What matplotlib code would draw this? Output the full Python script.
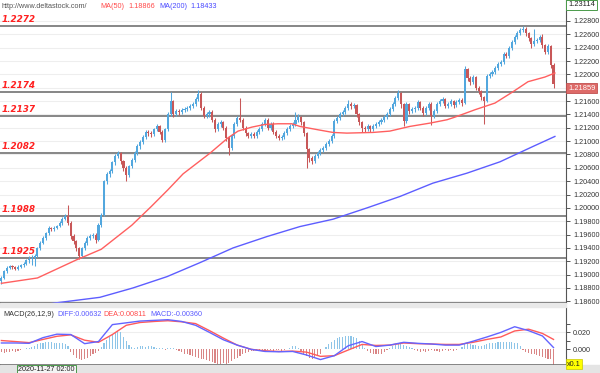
import matplotlib
matplotlib.use('Agg')
import matplotlib.pyplot as plt
import numpy as np
from matplotlib.ticker import FixedLocator, FuncFormatter, FormatStrFormatter
import matplotlib.transforms as mtrans

plt.rcParams['font.family'] = ['Liberation Sans', 'DejaVu Sans']

# ---------------- data ----------------
first_open = 1.1890
closes = [
    1.1895, 1.1905, 1.1910, 1.1913, 1.1911, 1.1909, 1.1912, 1.1914, 1.1916, 1.1922,
    1.1924, 1.1925, 1.1928, 1.1940, 1.1948, 1.1955, 1.1962, 1.1970, 1.1969, 1.1970,
    1.1973, 1.1978, 1.1984, 1.1988, 1.1978, 1.1958, 1.1950, 1.1940, 1.1928, 1.1940,
    1.1948, 1.1955, 1.1958, 1.1960, 1.1952, 1.1975, 1.1990, 1.2040, 1.2050, 1.2055,
    1.2068, 1.2078, 1.2082, 1.2070, 1.2060, 1.2049, 1.2062, 1.2072, 1.2082, 1.2092,
    1.2099, 1.2106, 1.2114, 1.2112, 1.2110, 1.2118, 1.2122, 1.2114, 1.2102, 1.2118,
    1.2140, 1.2160, 1.2140, 1.2145, 1.2143, 1.2146, 1.2148, 1.2150, 1.2152, 1.2156,
    1.2163, 1.2170, 1.2150, 1.2138, 1.2140, 1.2144, 1.2132, 1.2118, 1.2125, 1.2128,
    1.2120, 1.2105, 1.2090, 1.2108, 1.2125, 1.2135, 1.2132, 1.2120, 1.2112, 1.2108,
    1.2110, 1.2108, 1.2113, 1.2118, 1.2126, 1.2132, 1.2120, 1.2126, 1.2114, 1.2108,
    1.2105, 1.2106, 1.2112, 1.2118, 1.2122, 1.2126, 1.2132, 1.2136, 1.2128, 1.2112,
    1.2088, 1.2075, 1.2070, 1.2078, 1.2082, 1.2086, 1.2090, 1.2095, 1.2100, 1.2108,
    1.2130, 1.2134, 1.2140, 1.2144, 1.2150, 1.2155, 1.2152, 1.2154, 1.2140, 1.2128,
    1.2120, 1.2118, 1.2122, 1.2118, 1.2122, 1.2126, 1.2128, 1.2132, 1.2136, 1.2140,
    1.2148, 1.2156, 1.2165, 1.2172, 1.2155, 1.2130, 1.2155, 1.2145, 1.2148, 1.2150,
    1.2158, 1.2150, 1.2142, 1.2150, 1.2156, 1.2138, 1.2145, 1.2155, 1.2160, 1.2163,
    1.2153, 1.2155, 1.2160, 1.2154, 1.2158, 1.2162, 1.2157, 1.2208, 1.2195, 1.2188,
    1.2196, 1.2180, 1.2175, 1.2166, 1.2160, 1.2198, 1.2200, 1.2204, 1.2210, 1.2215,
    1.2219, 1.2230, 1.2228, 1.2240, 1.2248, 1.2256, 1.2262, 1.2266, 1.2268, 1.2262,
    1.2254, 1.2246, 1.2250, 1.2252, 1.2256, 1.2244, 1.2234, 1.2242, 1.2214, 1.2186,
]
highs = [
    1.1898, 1.1907, 1.1913, 1.1915, 1.1915, 1.1913, 1.1914, 1.1916, 1.1919, 1.1924,
    1.1928, 1.1929, 1.1931, 1.1942, 1.1950, 1.1958, 1.1964, 1.1973, 1.1972, 1.1973,
    1.1975, 1.1981, 1.1986, 1.1991, 1.2004, 1.1980, 1.1961, 1.1952, 1.1942, 1.1942,
    1.1950, 1.1958, 1.1961, 1.1963, 1.1962, 1.1977, 1.1992, 1.2042, 1.2053, 1.2058,
    1.2070, 1.2080, 1.2085, 1.2084, 1.2072, 1.2062, 1.2064, 1.2075, 1.2085, 1.2095,
    1.2102, 1.2109, 1.2117, 1.2117, 1.2115, 1.2120, 1.2125, 1.2124, 1.2116, 1.2120,
    1.2143, 1.2174, 1.2162, 1.2148, 1.2148, 1.2149, 1.2151, 1.2153, 1.2155, 1.2159,
    1.2166, 1.2176, 1.2173, 1.2153, 1.2144, 1.2147, 1.2146, 1.2134, 1.2128, 1.2131,
    1.2130, 1.2122, 1.2107, 1.2110, 1.2128, 1.2138, 1.2165, 1.2134, 1.2122, 1.2114,
    1.2113, 1.2113, 1.2116, 1.2121, 1.2129, 1.2135, 1.2134, 1.2129, 1.2128, 1.2116,
    1.2111, 1.2109, 1.2115, 1.2121, 1.2125, 1.2129, 1.2144, 1.2140, 1.2138, 1.2130,
    1.2114, 1.2090, 1.2078, 1.2080, 1.2085, 1.2089, 1.2093, 1.2098, 1.2103, 1.2111,
    1.2133, 1.2137, 1.2143, 1.2147, 1.2153, 1.2162, 1.2158, 1.2157, 1.2156, 1.2142,
    1.2130, 1.2123, 1.2125, 1.2124, 1.2125, 1.2129, 1.2131, 1.2135, 1.2139, 1.2143,
    1.2151, 1.2159, 1.2168, 1.2176, 1.2174, 1.2157, 1.2158, 1.2157, 1.2151, 1.2153,
    1.2161, 1.2160, 1.2152, 1.2153, 1.2159, 1.2158, 1.2148, 1.2158, 1.2163, 1.2166,
    1.2165, 1.2158, 1.2163, 1.2162, 1.2161, 1.2165, 1.2164, 1.2212, 1.2210, 1.2198,
    1.2199, 1.2198, 1.2183, 1.2177, 1.2168, 1.2200, 1.2203, 1.2207, 1.2213, 1.2218,
    1.2222, 1.2233, 1.2233, 1.2243, 1.2251, 1.2259, 1.2265, 1.2269, 1.2272, 1.2271,
    1.2264, 1.2256, 1.2268, 1.2255, 1.2259, 1.2260, 1.2246, 1.2245, 1.2244, 1.2217,
]
lows = [
    1.1886, 1.1893, 1.1903, 1.1908, 1.1909, 1.1907, 1.1907, 1.1910, 1.1912, 1.1914,
    1.1918, 1.1915, 1.1913, 1.1926, 1.1937, 1.1946, 1.1952, 1.1960, 1.1966, 1.1966,
    1.1968, 1.1971, 1.1975, 1.1982, 1.1975, 1.1954, 1.1946, 1.1936, 1.1923, 1.1925,
    1.1937, 1.1945, 1.1952, 1.1955, 1.1948, 1.1950, 1.1972, 1.1988, 1.2036, 1.2046,
    1.2052, 1.2064, 1.2075, 1.2066, 1.2055, 1.2040, 1.2046, 1.2059, 1.2069, 1.2079,
    1.2088, 1.2096, 1.2103, 1.2108, 1.2106, 1.2107, 1.2115, 1.2110, 1.2098, 1.2099,
    1.2115, 1.2137, 1.2136, 1.2137, 1.2139, 1.2140, 1.2143, 1.2145, 1.2147, 1.2149,
    1.2153, 1.2160, 1.2146, 1.2134, 1.2134, 1.2136, 1.2128, 1.2114, 1.2115, 1.2121,
    1.2116, 1.2100, 1.2079, 1.2087, 1.2105, 1.2122, 1.2129, 1.2116, 1.2107, 1.2104,
    1.2104, 1.2104, 1.2105, 1.2110, 1.2115, 1.2123, 1.2116, 1.2117, 1.2110, 1.2104,
    1.2101, 1.2102, 1.2103, 1.2109, 1.2115, 1.2119, 1.2123, 1.2129, 1.2124, 1.2108,
    1.2060, 1.2068, 1.2066, 1.2067, 1.2075, 1.2079, 1.2083, 1.2087, 1.2092, 1.2097,
    1.2105, 1.2127, 1.2131, 1.2137, 1.2141, 1.2147, 1.2148, 1.2149, 1.2136, 1.2124,
    1.2114, 1.2114, 1.2115, 1.2114, 1.2115, 1.2119, 1.2123, 1.2125, 1.2129, 1.2133,
    1.2137, 1.2145, 1.2153, 1.2162, 1.2150, 1.2122, 1.2127, 1.2141, 1.2142, 1.2144,
    1.2147, 1.2146, 1.2138, 1.2139, 1.2147, 1.2124, 1.2135, 1.2142, 1.2152, 1.2157,
    1.2149, 1.2150, 1.2152, 1.2150, 1.2151, 1.2155, 1.2153, 1.2155, 1.2190, 1.2184,
    1.2185, 1.2176, 1.2170, 1.2162, 1.2125, 1.2158, 1.2195, 1.2197, 1.2201, 1.2207,
    1.2212, 1.2216, 1.2224, 1.2225, 1.2237, 1.2245, 1.2253, 1.2259, 1.2263, 1.2258,
    1.2250, 1.2240, 1.2243, 1.2247, 1.2249, 1.2240, 1.2230, 1.2231, 1.2210, 1.2180,
]

ma50_idx = [0, 13, 27, 36, 47, 54, 60, 65.5, 75.2, 81.7, 85.3, 90.3, 95, 99.7, 104.7,
            107.6, 114.1, 119.5, 124.5, 133.9, 140, 147.2, 154.5, 160.6, 163.5, 170.7,
            177.9, 184.4, 189.8, 195.9, 199.5]
ma50_val = [1.1887, 1.1895, 1.1922, 1.1938, 1.1974, 1.2002, 1.2027, 1.2051, 1.2082, 1.2105,
            1.2115, 1.2121, 1.2125, 1.2126, 1.2126, 1.2122, 1.2117, 1.2113, 1.2112, 1.2113,
            1.2115, 1.2122, 1.2127, 1.2132, 1.2136, 1.2147, 1.2157, 1.2174, 1.2189, 1.2196,
            1.2202]
ma200_idx = [0, 19.3, 35.5, 47.4, 59.7, 71.6, 83.5, 95.7, 107.6, 119.5, 131.8, 143.6,
             155.5, 167.8, 179.7, 191.6, 199.5]
ma200_val = [1.18433, 1.18575, 1.1866, 1.1880, 1.1897, 1.1918, 1.1940, 1.1957, 1.1972,
             1.1983, 1.2000, 1.2017, 1.2037, 1.2052, 1.2069, 1.2092, 1.2107]

levels = [1.2272, 1.2174, 1.2137, 1.2082, 1.1988, 1.1925]
level_labels = ['1.2272', '1.2174', '1.2137', '1.2082', '1.1988', '1.1925']

macd_idx = [0, 5, 10, 15, 20, 25, 30, 35, 40, 45, 50, 55, 60, 65, 70, 75, 80, 85, 90, 95,
            100, 105, 110, 115, 120, 125, 130, 135, 140, 145, 150, 155, 160, 165, 170, 175,
            180, 185, 190, 195, 199]
diff_vals = [0.0075, 0.0075, 0.0071, 0.0138, 0.0179, 0.0175, 0.0067, 0.0092, 0.0292, 0.0313,
             0.0334, 0.0342, 0.0350, 0.0329, 0.0284, 0.0200, 0.0113, 0.0050, 0.0000, -0.0025,
             -0.0029, -0.0025, -0.0067, -0.0121, -0.0075, 0.0042, 0.0092, 0.0033, 0.0050, 0.0083,
             0.0071, 0.0063, 0.0050, 0.0050, 0.0096, 0.0146, 0.0200, 0.0267, 0.0221, 0.0158,
             0.0021]
dea_vals = [0.0104, 0.0092, 0.0079, 0.0117, 0.0154, 0.0171, 0.0108, 0.0083, 0.0175, 0.0284,
            0.0317, 0.0329, 0.0338, 0.0325, 0.0304, 0.0221, 0.0133, 0.0050, 0.0000, -0.0017,
            -0.0025, -0.0021, -0.0033, -0.0083, -0.0075, -0.0008, 0.0058, 0.0046, 0.0050, 0.0075,
            0.0067, 0.0063, 0.0058, 0.0058, 0.0083, 0.0117, 0.0146, 0.0217, 0.0238, 0.0188,
            0.0117]
hist_vals = [
    -0.003, -0.004, -0.003, -0.003, -0.002, -0.003, -0.002, -0.001,
    0.000, 0.001, 0.002, 0.003,
    0.004, 0.006, 0.007, 0.008, 0.009, 0.009, 0.009, 0.008, 0.008, 0.007, 0.007, 0.006, 0.004,
    -0.003, -0.007, -0.010, -0.012, -0.013, -0.012, -0.010, -0.008, -0.006, -0.004, -0.002,
    0.003, 0.007, 0.011, 0.015, 0.018, 0.021, 0.022, 0.020, 0.015, 0.010, 0.005,
    0.003, 0.002, 0.003, 0.004, 0.004, 0.003, 0.004, 0.004, 0.003, 0.002, 0.002, 0.001, -0.001,
    0.001, 0.002, 0.001, -0.001,
    -0.002, -0.003, -0.005, -0.006, -0.007, -0.008, -0.009, -0.010, -0.011, -0.012, -0.013,
    -0.014, -0.015, -0.016, -0.017, -0.017, -0.016, -0.017, -0.016, -0.014, -0.012, -0.010,
    -0.008, -0.006, -0.004,
    -0.003, -0.002, -0.002, -0.001, -0.002, -0.001, -0.002, -0.001, -0.001, -0.002, -0.001,
    -0.001, -0.002, -0.001, 0.000,
    0.002, 0.004, 0.004, 0.002,
    -0.002, -0.005, -0.008, -0.010, -0.011, -0.010, -0.008, -0.005,
    0.000, 0.003, 0.006, 0.009, 0.011, 0.013, 0.014, 0.015, 0.016, 0.016, 0.016, 0.015, 0.013,
    0.010, 0.006, 0.002,
    -0.002, -0.004, -0.005, -0.006, -0.006, -0.005, -0.003, -0.001,
    0.002, 0.004, 0.005, 0.006, 0.006, 0.005, 0.004, 0.003, 0.001,
    -0.001, -0.002, -0.003, -0.002, -0.003, -0.002, -0.001, -0.002, -0.002, -0.003, -0.002,
    -0.001, -0.002, -0.001, -0.002, -0.001, 0.000,
    0.003, 0.006, 0.007, 0.006, 0.005, 0.005, 0.004, 0.004, 0.005, 0.006, 0.007, 0.007, 0.008,
    0.009, 0.009, 0.009, 0.009, 0.009, 0.009, 0.008, 0.007, 0.004,
    -0.001, -0.003, -0.004, -0.005, -0.006, -0.007, -0.008, -0.009, -0.010, -0.011, -0.012,
    -0.020,
]

price_ticks = [1.186, 1.188, 1.190, 1.192, 1.194, 1.196, 1.198, 1.200, 1.202, 1.204, 1.206,
               1.208, 1.210, 1.212, 1.214, 1.216, 1.218, 1.220, 1.222, 1.224, 1.226, 1.228]
hidden_tick = 1.218   # covered by the last-price box in the reference
macd_ticks = [0.0, 0.02]
macd_minor = [0.01, 0.03]

header_site = 'http://www.deltastock.com/'
ma50_text, ma50_num = 'MA(50)', '1.18866'
ma200_text, ma200_num = 'MA(200)', '1.18433'
macd_head = ['MACD(26,12,9)', 'DIFF:0.00632', 'DEA:0.00811', 'MACD:-0.00360']
last_price = '1.21859'
top_price = '1.23114'
date_label = '2020-11-27 02:00'

# ---------------- figure ----------------
W, H = 600, 373
fig = plt.figure(figsize=(W / 100, H / 100), dpi=100)
fig.patch.set_facecolor('white')

def fx(px):
    return px / W

def fy(py):
    return 1 - py / H

fig.patches.append(plt.Rectangle((0, fy(307)), fx(566), (307 - 303) / H,
                                 transform=fig.transFigure, color='#e9e9e9', zorder=0))
fig.patches.append(plt.Rectangle((0, 0), 1, 8 / H, transform=fig.transFigure,
                                 color='#e4e4e4', zorder=0))

ax = fig.add_axes([0, fy(303), fx(566), 303 / H])
axm = fig.add_axes([0, fy(365), fx(566), (365 - 307) / H])

n = len(closes)
x = np.arange(n)
c = np.array(closes)
o = np.array([first_open] + closes[:-1])
hi = np.array(highs)
lo = np.array(lows)
up = c >= o
UP, DN = '#52a7de', '#c85758'
cols = [UP if u else DN for u in up]

for v in price_ticks:
    ax.axhline(v, color='#eeeeee', lw=0.8, zorder=0)

ax.vlines(x, lo, hi, colors=cols, lw=0.75, zorder=3)
body = np.maximum(np.abs(c - o), 0.00006)
ax.bar(x, body, bottom=np.minimum(o, c), width=0.75, color=cols, linewidth=0, zorder=4)

ax.plot(ma50_idx, ma50_val, color='#ff5f5f', lw=1.0, zorder=5)
ax.plot(ma200_idx, ma200_val, color='#5d5dff', lw=1.0, zorder=5)

tr = mtrans.blended_transform_factory(ax.transAxes, ax.transData)
for lv, lab in zip(levels, level_labels):
    ax.axhline(lv, color='#666666', lw=1.1, zorder=2)
    ax.text(0.003, lv + 0.0003, lab, transform=tr, color='#ff2020', fontsize=6.4,
            fontweight='bold', fontstyle='italic', family=['DejaVu Sans'],
            va='bottom', ha='left', zorder=6)

ax.set_xlim(-0.5, 203.5)
ax.set_ylim(1.18575, 1.23114)
ax.set_xticks([])
ax.yaxis.tick_right()
ax.yaxis.set_major_locator(FixedLocator(price_ticks))
ax.yaxis.set_major_formatter(FuncFormatter(
    lambda v, p: '' if abs(v - hidden_tick) < 1e-7 else '%.5f' % v))
ax.tick_params(axis='y', labelsize=5.2, colors='#555555', labelcolor='#333333',
               length=3, width=0.7, pad=2)
for s in ['top', 'left']:
    ax.spines[s].set_visible(False)
ax.spines['right'].set_color('#555555')
ax.spines['bottom'].set_color('#555555')
ax.spines['bottom'].set_linewidth(1.2)

# MACD
hv = np.array(hist_vals)
hcols = ['#8ec5e8' if v >= 0 else '#d98585' for v in hv]
axm.axhline(0.02, color='#eeeeee', lw=0.8, zorder=0)
axm.bar(x, hv, width=0.4, color=hcols, linewidth=0, zorder=2)
axm.plot(macd_idx, dea_vals, color='#ff5a5a', lw=1.0, zorder=3)
axm.plot(macd_idx, diff_vals, color='#6464ff', lw=1.0, zorder=4)
axm.set_xlim(-0.5, 203.5)
axm.set_ylim(-0.0185, 0.050)
axm.set_xticks([])
axm.yaxis.tick_right()
axm.yaxis.set_major_locator(FixedLocator(macd_ticks))
axm.yaxis.set_minor_locator(FixedLocator(macd_minor))
axm.yaxis.set_major_formatter(FormatStrFormatter('%.3f'))
axm.tick_params(axis='y', which='both', labelsize=5.2, colors='#555555',
                labelcolor='#333333', length=3, width=0.7, pad=2)
for s in ['top', 'left']:
    axm.spines[s].set_visible(False)
axm.spines['right'].set_color('#555555')
axm.spines['bottom'].set_color('#555555')
axm.spines['bottom'].set_linewidth(1.2)

# header texts
fig.text(fx(2), fy(6), header_site, fontsize=5.2, color='#555555', va='center')
fig.text(fx(100), fy(6), ma50_text, fontsize=5.2, color='#ff4a4a', va='center')
fig.text(fx(128), fy(6), ma50_num, fontsize=5.2, color='#ff4a4a', va='center')
fig.text(fx(159), fy(6), ma200_text, fontsize=5.2, color='#4a4aff', va='center')
fig.text(fx(190), fy(6), ma200_num, fontsize=5.2, color='#4a4aff', va='center')

mcols = ['#333333', '#5a5aff', '#ff4a4a', '#5a5aff']
mxs = [3, 57, 103, 150]
for t, col, xx in zip(macd_head, mcols, mxs):
    fig.text(fx(xx), fy(314), t, fontsize=5.2, color=col, va='center')

# right-side boxes
fig.text(fx(568), fy(88), last_price, fontsize=5.4, color='white', va='center',
         bbox=dict(boxstyle='square,pad=0.25', facecolor='#dd6a68', edgecolor='#c05050', lw=0.6))
fig.text(fx(568), fy(5), top_price, fontsize=5.4, color='#222222', va='center',
         bbox=dict(boxstyle='square,pad=0.25', facecolor='white', edgecolor='#4a9a4a', lw=0.7))
fig.text(fx(567), fy(364), 'x0.1', fontsize=5.2, color='#222222', va='center',
         bbox=dict(boxstyle='square,pad=0.15', facecolor='#ffff00', edgecolor='#c8c800', lw=0.5))
fig.text(fx(18), fy(369.5), date_label, fontsize=5.2, color='#222222', va='center',
         bbox=dict(boxstyle='square,pad=0.2', facecolor='#f4f4f4', edgecolor='#4a9a4a', lw=0.7))

fig.savefig('out.png', dpi=100, facecolor='white')
